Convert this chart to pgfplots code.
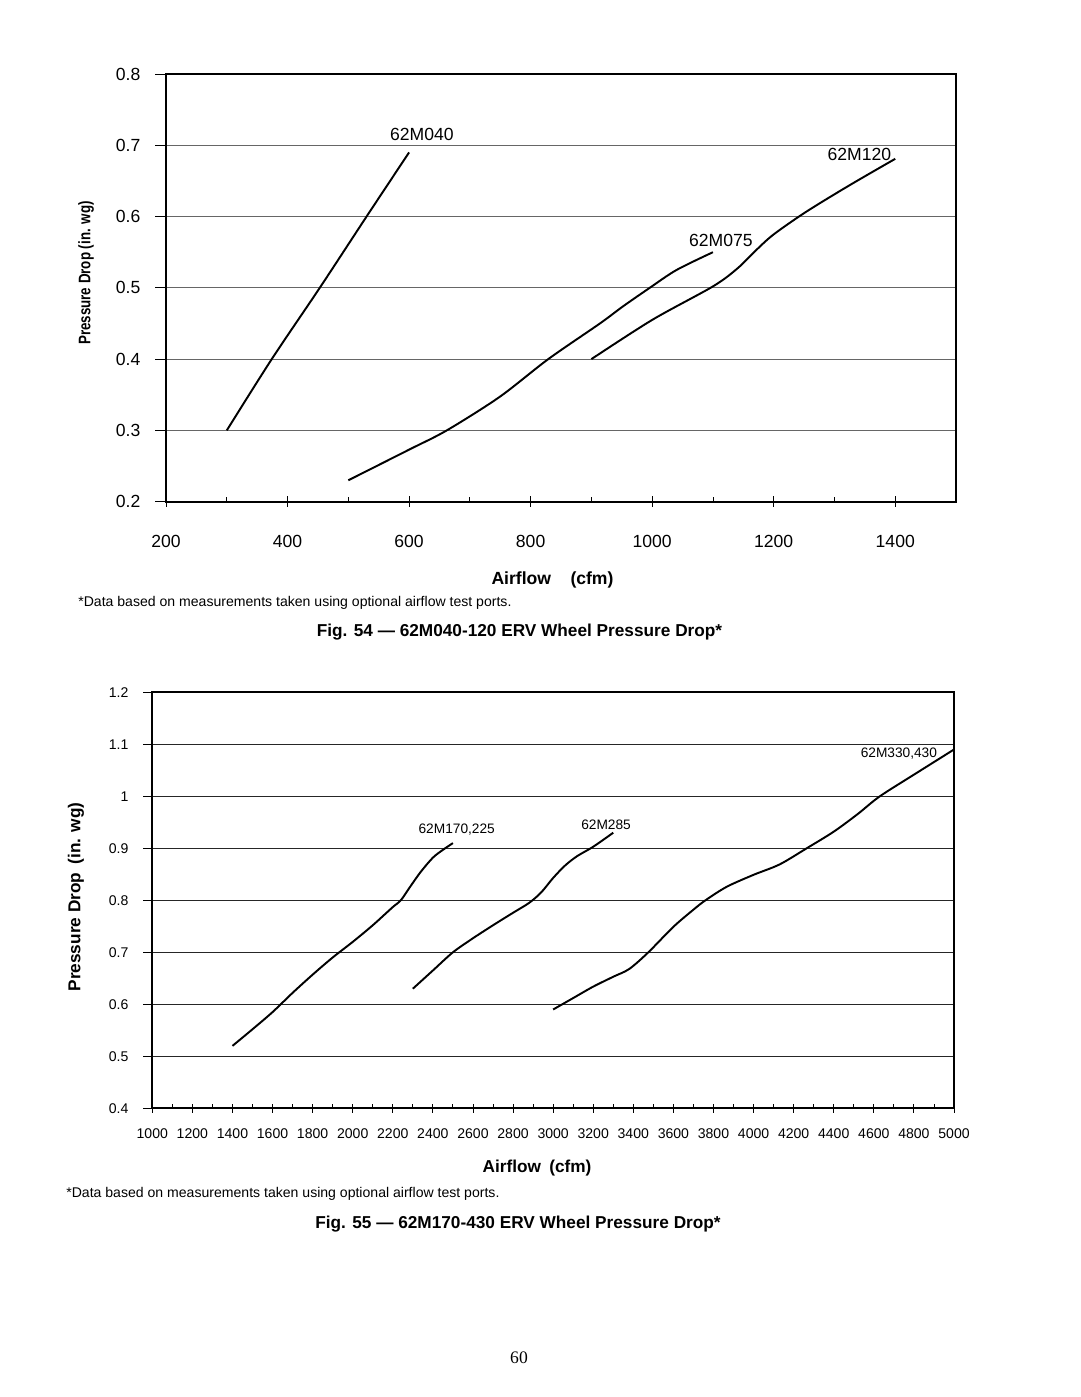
\documentclass[border=0pt]{standalone}
\usepackage{fontspec}
\setmainfont{Liberation Sans}
\newfontfamily\seriffont{Liberation Serif}
\usepackage{pgfplots}
\pgfplotsset{compat=1.18}
\begin{document}
\begin{tikzpicture}
\path[use as bounding box, fill=white] (0,0) rectangle (612bp,791.63bp);

% ---------------- Fig. 54 ----------------
\begin{axis}[
  at={(94.07bp,507.34bp)}, anchor=south west,
  scale only axis, width=447.67bp, height=242.36bp,
  xmin=200, xmax=1500, ymin=0.2, ymax=0.8,
  xtick={200,400,600,800,1000,1200,1400},
  minor xtick={300,500,700,900,1100,1300},
  ytick={0.2,0.3,0.4,0.5,0.6,0.7,0.8},
  ymajorgrids, major grid style={black!60, line width=0.6pt},
  axis line style={line width=1.3pt},
  tick pos=left,
  xtick align=center, ytick align=outside,
  major tick length=6bp, minor tick length=2.8bp,
  every minor x tick/.append style={yshift=1.4bp},
  tick style={black, line width=0.5pt},
  /pgf/number format/assume math mode=true,
  /pgf/number format/1000 sep={},
  yticklabel style={/pgf/number format/fixed, /pgf/number format/fixed zerofill, /pgf/number format/precision=1, anchor=east, xshift=-5bp},
  tick label style={font=\fontsize{10}{12}\selectfont},
  xticklabel style={anchor=center, yshift=-19.8bp},
  clip=false,
]
\addplot[black, line width=1.1pt, smooth] coordinates {
  (300,0.300) (374,0.400) (453,0.500) (530,0.600) (600,0.690)};
\addplot[black, line width=1.1pt, smooth] coordinates {
  (500,0.230) (600,0.273) (662,0.300) (749,0.347) (829,0.400) (914,0.450)
  (952,0.474) (996,0.500) (1040,0.525) (1100,0.550)};
\addplot[black, line width=1.1pt, smooth] coordinates {
  (900,0.400) (1000,0.455) (1100,0.502) (1140,0.527) (1170,0.552)
  (1200,0.575) (1254,0.607) (1325,0.644) (1400,0.681)};
\node[font=\fontsize{10}{12}\selectfont] at (axis cs:621,0.7145) {62M040};
\node[font=\fontsize{10}{12}\selectfont] at (axis cs:1341,0.6878) {62M120};
\node[font=\fontsize{10}{12}\selectfont] at (axis cs:1113,0.5662) {62M075};
\end{axis}

% ---------------- Fig. 55 ----------------
\begin{axis}[
  at={(86.30bp,163.60bp)}, anchor=south west,
  scale only axis, width=454.30bp, height=235.73bp,
  xmin=1000, xmax=5000, ymin=0.4, ymax=1.2,
  xtick={1000,1200,...,5000},
  minor xtick={1100,1300,...,4900},
  ytick={0.4,0.5,0.6,0.7,0.8,0.9,1.0,1.1,1.2},
  ymajorgrids, major grid style={black!85, line width=0.55pt},
  axis line style={line width=1.1pt},
  tick pos=left,
  xtick align=center, ytick align=outside,
  major tick length=5bp, minor tick length=2.4bp,
  every minor x tick/.append style={yshift=1.2bp},
  tick style={black, line width=0.5pt},
  /pgf/number format/assume math mode=true,
  /pgf/number format/1000 sep={},
  yticklabel style={/pgf/number format/fixed, /pgf/number format/precision=1, anchor=east, xshift=-5bp},
  tick label style={font=\fontsize{8}{10}\selectfont},
  xticklabel style={anchor=center, yshift=-11.8bp},
  clip=false,
]
\addplot[black, line width=1.1pt, smooth] coordinates {
  (1400,0.520) (1500,0.552) (1600,0.585) (1700,0.622) (1800,0.657)
  (1900,0.690) (2000,0.720) (2100,0.752) (2200,0.787) (2240,0.800)
  (2290,0.828) (2340,0.855) (2400,0.882) (2450,0.897) (2500,0.910)};
\addplot[black, line width=1.1pt, smooth] coordinates {
  (2300,0.630) (2400,0.665) (2500,0.700) (2600,0.727) (2700,0.752)
  (2800,0.776) (2880,0.795) (2940,0.815) (3000,0.843) (3060,0.867)
  (3120,0.885) (3200,0.903) (3300,0.930)};
\addplot[black, line width=1.1pt, smooth] coordinates {
  (3000,0.590) (3100,0.612) (3200,0.634) (3300,0.653) (3380,0.668)
  (3475,0.700) (3600,0.749) (3700,0.782) (3760,0.800) (3866,0.826)
  (4000,0.849) (4130,0.869) (4265,0.900) (4400,0.932) (4520,0.966)
  (4630,1.000) (4814,1.045) (5000,1.090)};
\node[font=\fontsize{7.8}{9}\selectfont] at (axis cs:2519,0.9365) {62M170,225};
\node[font=\fontsize{7.8}{9}\selectfont] at (axis cs:3264,0.945) {62M285};
\node[font=\fontsize{7.8}{9}\selectfont] at (axis cs:4725,1.0827) {62M330,430};
\end{axis}

% ---------------- page texts (pixel coordinates) ----------------
\begin{scope}[x=0.566667bp, y=-0.566667bp, shift={(0,791.63bp)}]
\node[rotate=90, font=\bfseries\fontsize{9.5}{11}\selectfont] at (86,273) {\scalebox{0.8}[1]{Pressure Drop (in. wg)}};
\node[font=\bfseries\fontsize{10}{12}\selectfont] at (552.5,580) {Airflow\hspace{11bp}(cfm)};
\node[anchor=west, inner sep=0pt, font=\fontsize{8}{10}\selectfont] at (78,603) {*Data based on measurements taken using optional airflow test ports.};
\node[font=\bfseries\fontsize{9.8}{12}\selectfont] at (519.5,632) {Fig. 54 --- 62M040-120 ERV Wheel Pressure Drop*};

\node[rotate=90, font=\bfseries\fontsize{9.8}{12}\selectfont] at (76,897) {Pressure Drop\hspace{2bp} (in. wg)};
\node[font=\bfseries\fontsize{9.8}{12}\selectfont] at (537,1168) {Airflow\hspace{2bp} (cfm)};
\node[anchor=west, inner sep=0pt, font=\fontsize{8}{10}\selectfont] at (66,1194) {*Data based on measurements taken using optional airflow test ports.};
\node[font=\bfseries\fontsize{9.8}{12}\selectfont] at (518,1224) {Fig. 55 --- 62M170-430 ERV Wheel Pressure Drop*};

\node[font=\seriffont\fontsize{10}{12}\selectfont] at (519,1358) {60};
\end{scope}
\end{tikzpicture}
\end{document}
